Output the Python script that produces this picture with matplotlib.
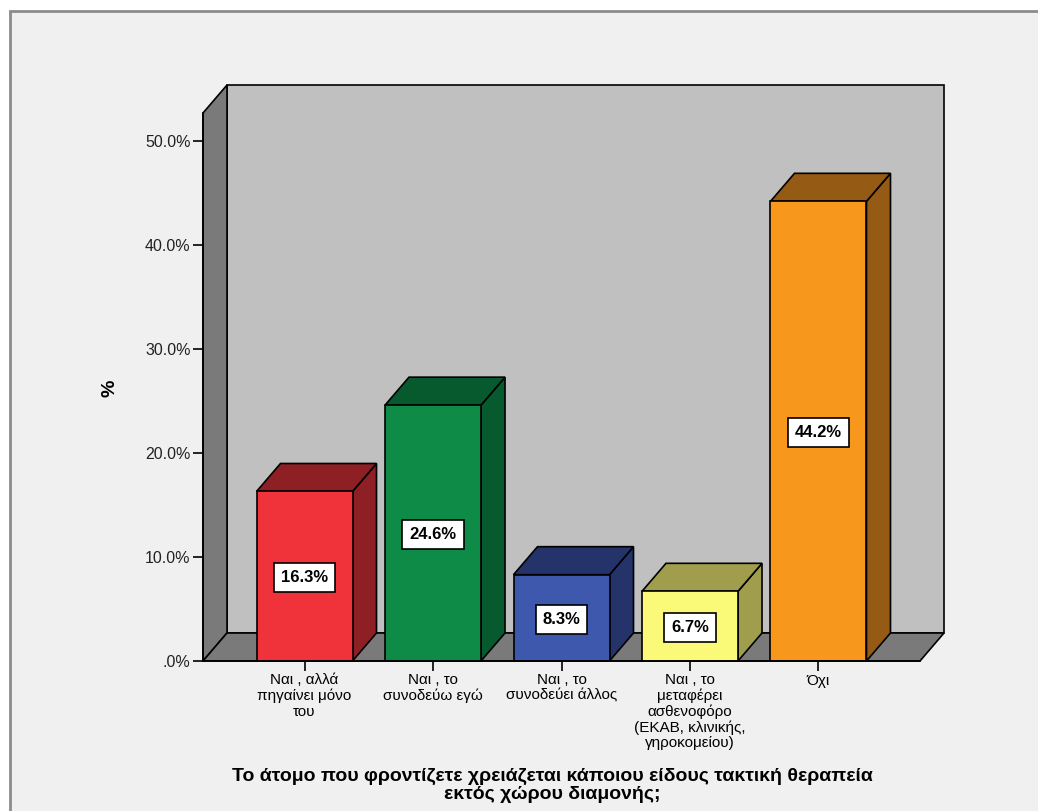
import numpy as np
import matplotlib
matplotlib.use("Agg")
import matplotlib.pyplot as plt
from matplotlib.patches import Polygon, Rectangle
from matplotlib.ticker import FuncFormatter

# ----------------------------------------------------------------------------
# Data
categories = [
    "Ναι , αλλά\nπηγαίνει μόνο\nτου",
    "Ναι , το\nσυνοδεύω εγώ",
    "Ναι , το\nσυνοδεύει άλλος",
    "Ναι , το\nμεταφέρει\nασθενοφόρο\n(ΕΚΑΒ, κλινικής,\nγηροκομείου)",
    "Όχι",
]
values = [16.3, 24.6, 8.3, 6.7, 44.2]
yticks = [0, 10, 20, 30, 40, 50]
xTitle = ("Το άτομο που φροντίζετε χρειάζεται κάποιου είδους τακτική θεραπεία\n"
          "εκτός χώρου διαμονής;")

frontColors = ["#F0323A", "#0F8B48", "#3E58AE", "#FAFA78", "#F7981D"]
sideColors = ["#8E1F24", "#075A2D", "#25336B", "#A09D4D", "#955A14"]

# ----------------------------------------------------------------------------
def main():
    plt.rcParams['font.family'] = ['Liberation Sans', 'DejaVu Sans']

    W, H = 1038, 811
    fig = plt.figure(figsize=(W / 100, H / 100), dpi=100)
    fig.patch.set_facecolor("white")

    # outer frame
    frame = Rectangle((10 / W, -0.1), 1.1, (H - 11) / H + 0.1,
                      transform=fig.transFigure, facecolor="#F0F0F0",
                      edgecolor="#8C8C8C", linewidth=2, zorder=-5)
    fig.patches.append(frame)

    # front plane in pixels
    left, right, bottom, top = 203, 920, 661, 113
    ax = fig.add_axes([left / W, (H - bottom) / H, (right - left) / W, (bottom - top) / H])
    ax.set_facecolor("none")
    ax.set_zorder(2)

    xmin, xmax = -0.79, 4.79
    pxPerY = 10.4
    ymax = (bottom - top) / pxPerY
    ax.set_xlim(xmin, xmax)
    ax.set_ylim(0, ymax)

    pxPerX = (right - left) / (xmax - xmin)
    ddx = 24 / pxPerX
    ddy = 28 / pxPerY
    wallGray = "#7A7A7A"
    edge = dict(edgecolor="black", linewidth=1.2, clip_on=False)

    # back wall, left wall, floor
    ax.add_patch(Polygon([(xmin + ddx, ddy), (xmax + ddx, ddy), (xmax + ddx, ymax + ddy),
                          (xmin + ddx, ymax + ddy)], facecolor="#C0C0C0", zorder=1, **edge))
    ax.add_patch(Polygon([(xmin, 0), (xmin + ddx, ddy), (xmin + ddx, ymax + ddy),
                          (xmin, ymax)], facecolor=wallGray, zorder=1, **edge))
    ax.add_patch(Polygon([(xmin, 0), (xmax, 0), (xmax + ddx, ddy), (xmin + ddx, ddy)],
                         facecolor=wallGray, zorder=1, **edge))

    # bars
    x = np.arange(len(values))
    w = 96 / pxPerX
    for xi, v, fc, sc in zip(x, values, frontColors, sideColors):
        r = xi + w / 2
        l = xi - w / 2
        ax.add_patch(Polygon([(r, 0), (r + ddx, ddy), (r + ddx, v + ddy), (r, v)],
                             facecolor=sc, zorder=3, **edge))
        ax.add_patch(Polygon([(l, v), (r, v), (r + ddx, v + ddy), (l + ddx, v + ddy)],
                             facecolor=sc, zorder=3, **edge))
    ax.bar(x, values, width=w, color=frontColors, edgecolor="black", linewidth=1.2,
           zorder=4, clip_on=False)

    for xi, v in zip(x, values):
        ax.text(xi, v / 2 - 0.15, f"{v:.1f}%", ha="center", va="center", fontsize=12,
                fontweight="bold", zorder=6,
                bbox=dict(boxstyle="square,pad=0.42", facecolor="white",
                          edgecolor="black", linewidth=1.2))

    # axes
    for s in ["top", "right"]:
        ax.spines[s].set_visible(False)
    ax.spines["left"].set_linewidth(1.2)
    ax.spines["bottom"].set_linewidth(1.2)
    ax.spines["left"].set_zorder(5)
    ax.spines["bottom"].set_zorder(5)

    ax.set_yticks(yticks)
    ax.yaxis.set_major_formatter(FuncFormatter(
        lambda v, p: ".0%" if v == 0 else f"{v:.1f}%"))
    ax.tick_params(axis="y", length=7, width=1.2, labelsize=11.5, pad=2,
                   colors="black", labelcolor="#222222")
    ax.set_xticks(x)
    ax.set_xticklabels(categories, fontsize=11, linespacing=1.12)
    ax.tick_params(axis="x", length=7, width=1.2, pad=2)

    fig.text(110 / W, 1 - 388 / H, "%", rotation=90, ha="center", va="center",
             fontsize=14, fontweight="bold")
    fig.text(552 / W, 1 - 768 / H, xTitle, ha="center", va="top", fontsize=14,
             fontweight="bold", linespacing=1.1)

    fig.savefig("out.png", dpi=100, facecolor=fig.get_facecolor())

# ----------------------------------------------------------------------------
if __name__ == "__main__":
    main()
